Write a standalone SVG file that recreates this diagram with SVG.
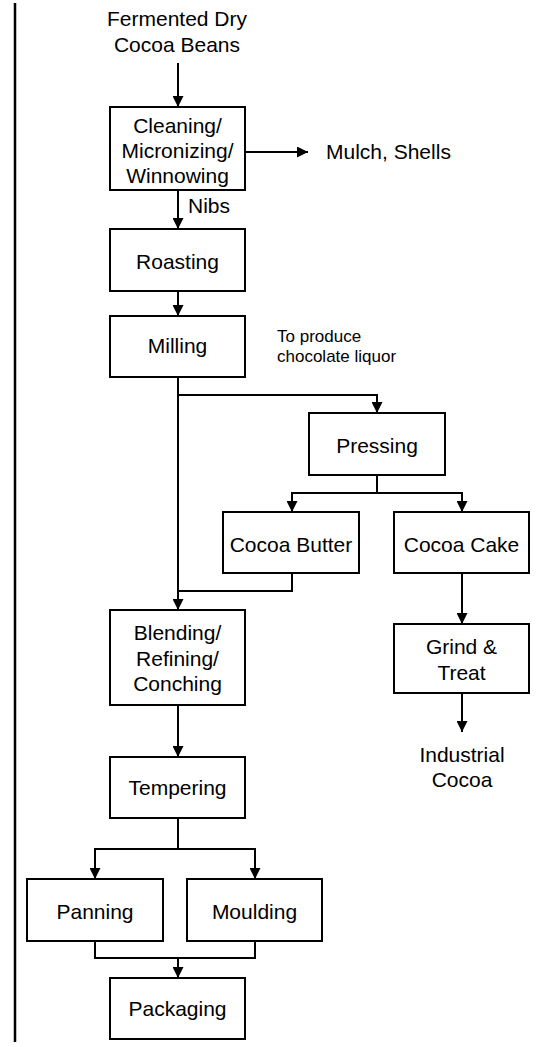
<svg xmlns="http://www.w3.org/2000/svg" width="550" height="1047" viewBox="0 0 550 1047">
<defs>
<marker id="arr" viewBox="0 0 10 10" refX="10" refY="5" markerUnits="userSpaceOnUse" markerWidth="11" markerHeight="11" orient="auto">
<path d="M0,0 L10,5 L0,10 z" fill="#000"/>
</marker>
<style>
.box{fill:#fff;stroke:#000;stroke-width:2}
.t{font-family:"Liberation Sans",Arial,sans-serif;font-size:21px;fill:#000;text-anchor:middle}
.s{font-family:"Liberation Sans",Arial,sans-serif;font-size:17px;fill:#000}
.c{fill:none;stroke:#000;stroke-width:2}
.a{fill:none;stroke:#000;stroke-width:2;marker-end:url(#arr)}
</style>
</defs>
<rect width="550" height="1047" fill="#fff"/>
<line x1="15" y1="3" x2="15" y2="1042" stroke="#000" stroke-width="2.5"/>

<g id="connectors">
<path class="a" d="M178,63 V107"/>
<path class="a" d="M245,152 H308"/>
<path class="a" d="M178,190 V229"/>
<path class="a" d="M178,291 V316"/>
<path class="a" d="M178,377 V610"/>
<path class="a" d="M178,395 H377 V413"/>
<path class="c" d="M377,475 V493"/>
<path class="a" d="M377,493 H292 V512"/>
<path class="a" d="M377,493 H462 V512"/>
<path class="c" d="M292,573 V591 H178"/>
<path class="a" d="M462,573 V624"/>
<path class="a" d="M462,693 V732"/>
<path class="a" d="M178,705 V757"/>
<path class="c" d="M178,818 V849"/>
<path class="a" d="M178,849 H95 V879"/>
<path class="a" d="M178,849 H255 V879"/>
<path class="c" d="M95,941 V958 H255 V941"/>
<path class="a" d="M178,958 V978"/>
</g>

<g id="source">
<text class="t" x="177" y="26">Fermented Dry</text>
<text class="t" x="177" y="52">Cocoa Beans</text>
</g>
<g id="cleaning">
<rect class="box" x="110" y="107" width="135" height="83"/>
<text class="t" x="177.5" y="133">Cleaning/</text>
<text class="t" x="177.5" y="158">Micronizing/</text>
<text class="t" x="177.5" y="183">Winnowing</text>
</g>
<g id="mulch">
<text class="t" x="326" y="159" style="text-anchor:start">Mulch, Shells</text>
</g>
<g id="nibs-label">
<text class="t" x="188" y="213" style="text-anchor:start">Nibs</text>
</g>
<g id="roasting">
<rect class="box" x="110" y="229" width="135" height="62"/>
<text class="t" x="177.5" y="269">Roasting</text>
</g>
<g id="milling">
<rect class="box" x="110" y="316" width="135" height="61"/>
<text class="t" x="177.5" y="353">Milling</text>
</g>
<g id="note">
<text class="s" x="277" y="342">To produce</text>
<text class="s" x="277" y="362">chocolate liquor</text>
</g>
<g id="pressing">
<rect class="box" x="309" y="413" width="136" height="62"/>
<text class="t" x="377" y="453">Pressing</text>
</g>
<g id="cocoa-butter">
<rect class="box" x="223" y="512" width="136" height="61"/>
<text class="t" x="291" y="552">Cocoa Butter</text>
</g>
<g id="cocoa-cake">
<rect class="box" x="394" y="512" width="135" height="61"/>
<text class="t" x="461.5" y="552">Cocoa Cake</text>
</g>
<g id="grind">
<rect class="box" x="394" y="624" width="135" height="69"/>
<text class="t" x="461.5" y="654">Grind &amp;</text>
<text class="t" x="461.5" y="680">Treat</text>
</g>
<g id="industrial">
<text class="t" x="462" y="762">Industrial</text>
<text class="t" x="462" y="787">Cocoa</text>
</g>
<g id="blending">
<rect class="box" x="110" y="610" width="135" height="95"/>
<text class="t" x="177.5" y="640">Blending/</text>
<text class="t" x="177.5" y="666">Refining/</text>
<text class="t" x="177.5" y="691">Conching</text>
</g>
<g id="tempering">
<rect class="box" x="110" y="757" width="135" height="61"/>
<text class="t" x="177.5" y="795">Tempering</text>
</g>
<g id="panning">
<rect class="box" x="27" y="879" width="136" height="62"/>
<text class="t" x="95" y="919">Panning</text>
</g>
<g id="moulding">
<rect class="box" x="187" y="879" width="135" height="62"/>
<text class="t" x="254.5" y="919">Moulding</text>
</g>
<g id="packaging">
<rect class="box" x="110" y="978" width="135" height="61"/>
<text class="t" x="177.5" y="1016">Packaging</text>
</g>
</svg>
